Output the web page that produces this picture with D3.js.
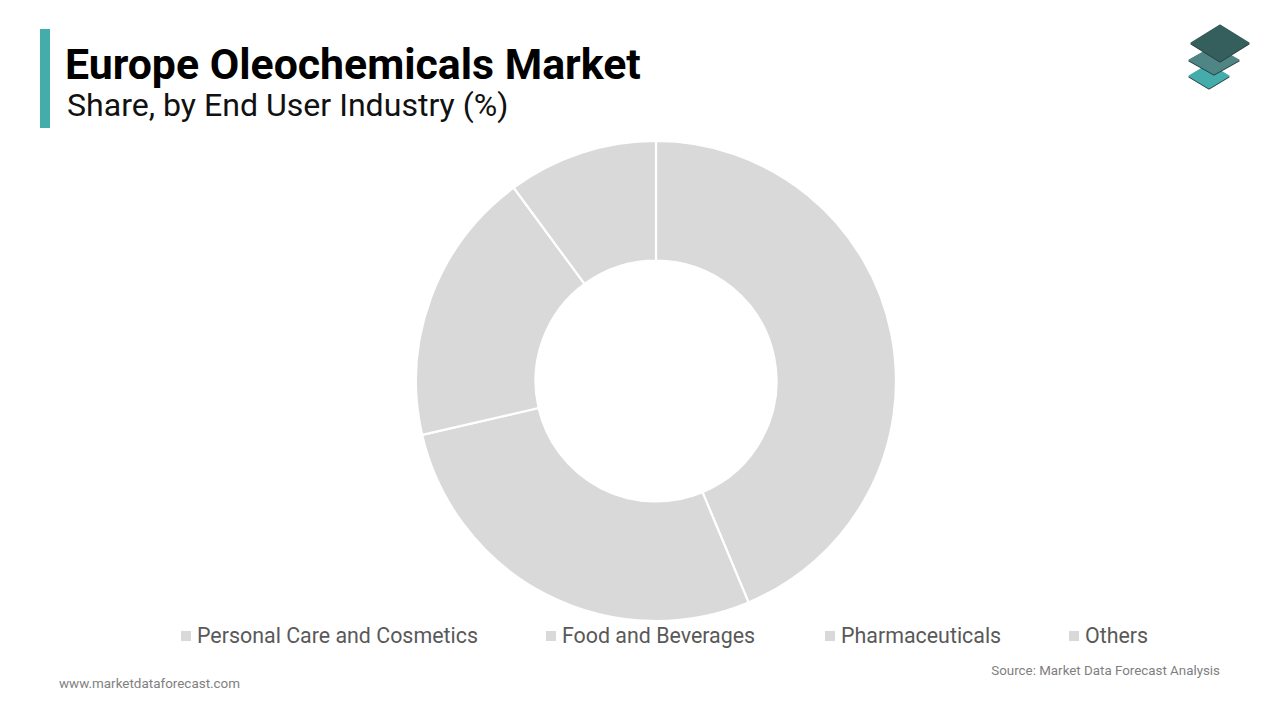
<!DOCTYPE html>
<html>
<head>
<meta charset="utf-8">
<script src="https://cdn.jsdelivr.net/npm/d3@7"></script>
<style>
  html, body { margin: 0; padding: 0; background: #fff; }
  svg { display: block; font-family: Roboto, sans-serif; }
</style>
</head>
<body>
<div id="chart"></div>
<script>
const categories = ['Personal Care and Cosmetics', 'Food and Beverages', 'Pharmaceuticals', 'Others'];
const shares = [43.7, 27.7, 18.5, 10.1];
const legendX = [181, 546, 825, 1069];

const width = 1280;
const height = 720;

const svg = d3.select('#chart')
    .append('svg')
    .attr('width', width)
    .attr('height', height);

// header
svg.append('rect')
    .attr('x', 40).attr('y', 29)
    .attr('width', 10).attr('height', 99)
    .attr('fill', '#45acac');

svg.append('text')
    .attr('x', 65).attr('y', 79)
    .attr('font-size', 42.8).attr('font-weight', 700)
    .attr('fill', '#000')
    .text('Europe Oleochemicals Market');

svg.append('text')
    .attr('x', 67).attr('y', 116)
    .attr('font-size', 32.1)
    .attr('fill', '#111')
    .text('Share, by End User Industry (%)');

// logo
const logo = svg.append('g');
const layers = [
    { cx: 1209, cy: 76, rx: 20, ry: 12, fill: '#45acac' },
    { cx: 1214, cy: 60, rx: 25, ry: 14, fill: '#4f8585' },
    { cx: 1220, cy: 43, rx: 29, ry: 18, fill: '#355f5d' }
];
layers.forEach(l => {
    const pts = (dy) => [[l.cx, l.cy - l.ry + dy], [l.cx + l.rx, l.cy + dy], [l.cx, l.cy + l.ry + dy], [l.cx - l.rx, l.cy + dy]].join(' ');
    logo.append('polygon').attr('points', pts(1)).attr('fill', '#2c3f3f')
        .attr('stroke', '#2c3f3f').attr('stroke-width', 1.2).attr('stroke-linejoin', 'round');
    logo.append('polygon').attr('points', pts(0)).attr('fill', l.fill)
        .attr('stroke', l.fill).attr('stroke-width', 1.2).attr('stroke-linejoin', 'round');
});

// donut
const pie = d3.pie().sort(null).value(d => d);
const arc = d3.arc().innerRadius(120.5).outerRadius(240);

svg.append('g')
    .attr('transform', 'translate(656, 381)')
    .selectAll('path')
    .data(pie(shares))
    .enter()
    .append('path')
    .attr('d', arc)
    .attr('fill', '#d9d9d9')
    .attr('stroke', '#fff')
    .attr('stroke-width', 2.2);

// legend
const legend = svg.selectAll('.legend')
    .data(categories)
    .enter()
    .append('g')
    .attr('class', 'legend')
    .attr('transform', (d, i) => `translate(${legendX[i]}, 631)`);

legend.append('rect')
    .attr('width', 10).attr('height', 10)
    .attr('fill', '#d9d9d9');

legend.append('text')
    .attr('x', 16).attr('y', 12)
    .attr('font-size', 21.4)
    .attr('fill', '#595959')
    .text(d => d);

// footer
svg.append('text')
    .attr('x', 59).attr('y', 688)
    .attr('font-size', 13.45)
    .attr('fill', '#7f7f7f')
    .text('www.marketdataforecast.com');

svg.append('text')
    .attr('x', 1220).attr('y', 675)
    .attr('text-anchor', 'end')
    .attr('font-size', 13.35)
    .attr('fill', '#7f7f7f')
    .text('Source: Market Data Forecast Analysis');
</script>
</body>
</html>
